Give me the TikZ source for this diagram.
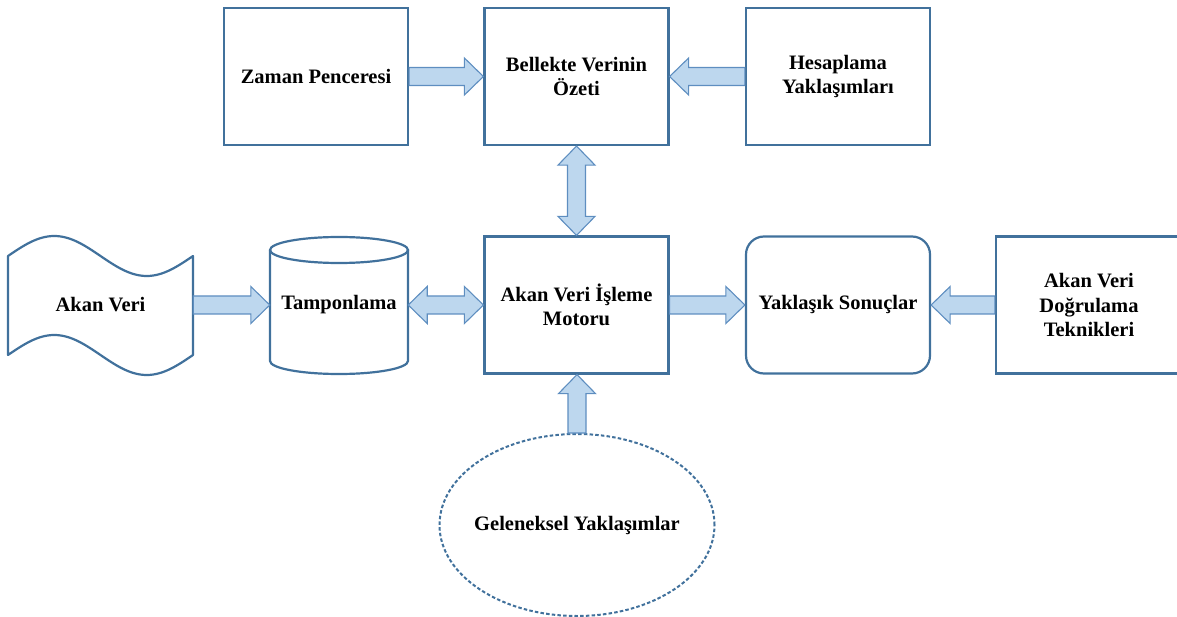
\documentclass[tikz,border=0pt]{standalone}
\usepackage{fontspec}
\setmainfont{Liberation Serif}
\usetikzlibrary{calc,shapes.geometric}
\definecolor{boxline}{HTML}{41719C}
\definecolor{arrfill}{HTML}{BDD7EE}
\definecolor{arrline}{HTML}{5E8EC0}

% block arrow with one head, from #1 to the tip #2
\newcommand\onearrow[2]{%
  \coordinate (ba-s) at (#1);
  \coordinate (ba-t) at (#2);
  \coordinate (ba-h) at ($(ba-t)!19pt!(ba-s)$);
  \filldraw[blockarrow] ($(ba-s)!9pt!90:(ba-t)$) -- ($(ba-h)!9pt!90:(ba-t)$)
    -- ($(ba-h)!18.5pt!90:(ba-t)$) -- (ba-t) -- ($(ba-h)!18.5pt!-90:(ba-t)$)
    -- ($(ba-h)!9pt!-90:(ba-t)$) -- ($(ba-s)!9pt!-90:(ba-t)$) -- cycle;}

% block arrow with a head at both ends
\newcommand\twoarrow[2]{%
  \coordinate (ba-s) at (#1);
  \coordinate (ba-t) at (#2);
  \coordinate (ba-h) at ($(ba-t)!19pt!(ba-s)$);
  \coordinate (ba-g) at ($(ba-s)!19pt!(ba-t)$);
  \filldraw[blockarrow] (ba-s) -- ($(ba-g)!18.5pt!90:(ba-t)$) -- ($(ba-g)!9pt!90:(ba-t)$)
    -- ($(ba-h)!9pt!90:(ba-t)$) -- ($(ba-h)!18.5pt!90:(ba-t)$) -- (ba-t)
    -- ($(ba-h)!18.5pt!-90:(ba-t)$) -- ($(ba-h)!9pt!-90:(ba-t)$)
    -- ($(ba-g)!9pt!-90:(ba-t)$) -- ($(ba-g)!18.5pt!-90:(ba-t)$) -- cycle;}

\begin{document}
\begin{tikzpicture}[x=1pt,y=1pt,
  every node/.style={font=\fontsize{20.5}{24.5}\selectfont\bfseries, align=center, inner sep=0pt},
  procbox/.style={draw=boxline, line width=2.2pt, minimum width=184pt, minimum height=137pt},
  roundbox/.style={procbox, rounded corners=18pt},
  plain/.style={minimum width=#1, minimum height=137pt},
  outline/.style={draw=boxline, line width=2.2pt},
  dashell/.style={ellipse, draw=boxline, line width=2pt, dash pattern=on 3.5pt off 2.2pt,
                  minimum width=275pt, minimum height=182pt},
  blockarrow/.style={fill=arrfill, draw=arrline, line width=1.1pt, line join=miter}]

\useasboundingbox (0,0) rectangle (1177,-617);

% top row
\node[procbox] (zaman) at (316,-76.5) {Zaman Penceresi};
\node[procbox] (bellek) at (576.5,-76.5) {Bellekte Verinin\\Özeti};
\node[procbox] (hesap) at (838,-76.5) {Hesaplama\\Yaklaşımları};

% middle row
\node[plain=185pt] (akan) at (100.5,-305) {Akan Veri};
\draw[outline, line join=round]
  (8,-256) sin (54.25,-236) cos (100.5,-256) sin (146.75,-276) cos (193,-256)
  -- (193,-355) sin (146.75,-375) cos (100.5,-355) sin (54.25,-335) cos (8,-355) -- cycle;

\node[plain=138pt] (tampon) at (339,-305) {Tamponlama};
\draw[outline] (270,-250) -- (270,-361) arc[start angle=180, end angle=360, x radius=69, y radius=13]
  -- (408,-250);
\draw[outline] (339,-250) ellipse[x radius=69, y radius=13];

\node[procbox] (motor) at (576.5,-305) {Akan Veri İşleme\\Motoru};
\node[roundbox] (yaklasik) at (838,-305) {Yaklaşık Sonuçlar};
\node[procbox, minimum width=186pt] (dogrulama) at (1089,-305) {Akan Veri\\Doğrulama\\Teknikleri};

% bottom: dashed ellipse with its label
\node[dashell] (gelenek) at (577,-525) {};
\node (gelenektext) at (gelenek.center) {Geleneksel Yaklaşımlar};

% connectors
\onearrow{zaman.east}{bellek.west}
\onearrow{hesap.west}{bellek.east}
\twoarrow{bellek.south}{motor.north}
\onearrow{akan.east}{tampon.west}
\twoarrow{tampon.east}{motor.west}
\onearrow{motor.east}{yaklasik.west}
\onearrow{dogrulama.west}{yaklasik.east}
\onearrow{gelenek.north}{gelenek.north |- motor.south}
\end{tikzpicture}
\end{document}
